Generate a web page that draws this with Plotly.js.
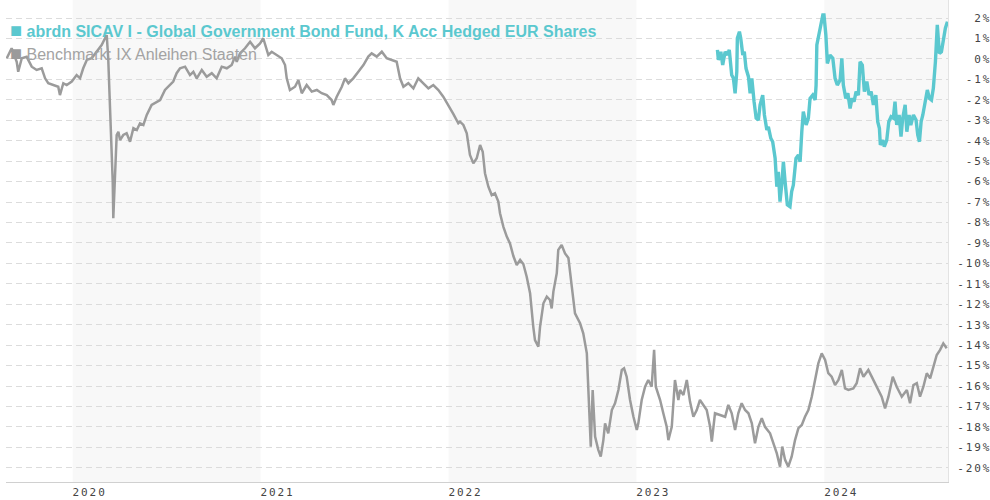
<!DOCTYPE html>
<html><head><meta charset="utf-8">
<script src="https://cdn.plot.ly/plotly-3.0.1.min.js"></script>
<style>
html,body{margin:0;padding:0;background:#fff;}
#chart{width:990px;height:500px;}
.xtick text, .ytick text { letter-spacing: 1.9px; }
</style></head><body><div id="chart"></div>
<script>
// x values are decimal years
const fundName = 'abrdn SICAV I - Global Government Bond Fund, K Acc Hedged EUR Shares';
const benchName = 'Benchmark: IX Anleihen Staaten';

const benchX = [2019.649,2019.675,2019.702,2019.710,2019.729,2019.755,2019.782,2019.808,2019.835,2019.853,
2019.870,2019.897,2019.923,2019.932,2019.950,2019.968,2019.995,2020.021,2020.039,2020.056,
2020.075,2020.101,2020.128,2020.154,2020.172,2020.181,2020.189,2020.199,2020.208,2020.213,
2020.216,2020.225,2020.234,2020.243,2020.252,2020.269,2020.287,2020.305,2020.323,2020.341,
2020.358,2020.376,2020.394,2020.420,2020.447,2020.465,2020.491,2020.518,2020.535,2020.553,
2020.571,2020.598,2020.624,2020.642,2020.660,2020.687,2020.713,2020.740,2020.766,2020.793,
2020.820,2020.846,2020.864,2020.873,2020.890,2020.917,2020.944,2020.970,2020.997,2021.014,
2021.041,2021.059,2021.086,2021.112,2021.130,2021.139,2021.156,2021.183,2021.201,2021.219,
2021.245,2021.272,2021.299,2021.325,2021.352,2021.378,2021.387,2021.405,2021.432,2021.449,
2021.467,2021.493,2021.520,2021.547,2021.573,2021.591,2021.618,2021.645,2021.671,2021.698,
2021.724,2021.742,2021.760,2021.786,2021.813,2021.839,2021.866,2021.893,2021.919,2021.946,
2021.972,2021.999,2022.026,2022.052,2022.061,2022.079,2022.097,2022.114,2022.132,2022.150,
2022.168,2022.182,2022.194,2022.212,2022.230,2022.247,2022.265,2022.274,2022.292,2022.310,
2022.327,2022.345,2022.363,2022.381,2022.398,2022.416,2022.434,2022.451,2022.460,2022.478,
2022.487,2022.505,2022.523,2022.540,2022.549,2022.558,2022.576,2022.584,2022.602,2022.620,
2022.638,2022.656,2022.673,2022.700,2022.717,2022.736,2022.744,2022.753,2022.757,2022.767,
2022.780,2022.797,2022.810,2022.824,2022.833,2022.850,2022.869,2022.886,2022.904,2022.922,
2022.934,2022.948,2022.966,2022.984,2023.002,2023.010,2023.028,2023.046,2023.063,2023.081,
2023.094,2023.103,2023.126,2023.143,2023.161,2023.170,2023.188,2023.205,2023.223,2023.232,
2023.250,2023.268,2023.285,2023.303,2023.321,2023.338,2023.356,2023.374,2023.392,2023.401,
2023.418,2023.445,2023.472,2023.489,2023.507,2023.525,2023.542,2023.560,2023.578,2023.596,
2023.614,2023.631,2023.649,2023.667,2023.684,2023.711,2023.729,2023.747,2023.764,2023.776,
2023.791,2023.808,2023.826,2023.844,2023.862,2023.880,2023.897,2023.915,2023.933,2023.950,
2023.968,2023.986,2024.004,2024.021,2024.039,2024.057,2024.075,2024.093,2024.110,2024.128,
2024.154,2024.172,2024.190,2024.208,2024.234,2024.252,2024.270,2024.287,2024.305,2024.323,
2024.341,2024.364,2024.385,2024.412,2024.439,2024.456,2024.474,2024.492,2024.509,2024.527,
2024.545,2024.563,2024.580,2024.598,2024.616,2024.633,2024.651];

const benchY = [0.03,0.52,-0.14,-0.63,0.03,0.1,-0.38,-0.54,-0.46,-0.95,
-1.19,-1.28,-1.36,-1.77,-1.19,-1.28,-1.11,-0.79,-0.95,-0.46,
-0.05,0.03,0.35,0.68,1.01,1.17,0.03,-2.42,-4.85,-6.0,
-7.79,-5.19,-3.72,-3.56,-3.97,-3.72,-3.64,-4.05,-3.39,-3.48,
-3.15,-3.23,-2.74,-2.25,-2.09,-2.01,-1.52,-1.28,-1.11,-0.70,
-0.46,-0.38,-0.79,-0.63,-0.95,-0.54,-0.87,-0.70,-0.95,-0.38,
-0.46,-0.30,0.11,-0.14,0.27,0.52,0.84,0.52,0.76,1.01,
0.19,0.35,0.19,0.03,-0.30,-0.95,-1.52,-1.36,-1.03,-1.68,
-1.28,-1.60,-1.52,-1.68,-1.77,-2.01,-2.25,-1.85,-1.36,-0.95,
-1.19,-0.95,-0.63,-0.30,0.11,0.27,0.11,0.35,0.03,-0.05,
-0.14,-0.95,-1.36,-1.19,-1.44,-0.95,-1.19,-1.44,-1.28,-1.52,
-1.85,-2.25,-2.70,-3.15,-3.07,-3.23,-3.64,-4.70,-5.11,-4.86,
-4.21,-4.54,-5.59,-6.25,-6.66,-6.57,-6.98,-7.55,-8.21,-8.69,
-9.02,-9.64,-10.08,-9.83,-10.03,-10.65,-11.46,-13.10,-13.75,-14.07,
-13.10,-11.95,-11.63,-11.79,-12.20,-11.38,-10.48,-9.34,-9.10,-9.51,
-9.74,-11.14,-12.44,-12.93,-13.42,-14.40,-16.03,-17.50,-18.96,-16.19,
-18.47,-19.12,-19.45,-18.64,-17.82,-18.31,-17.17,-16.84,-16.19,-15.21,
-15.13,-15.54,-16.68,-17.50,-18.15,-17.82,-16.68,-16.03,-15.70,-16.03,
-14.23,-16.03,-16.68,-17.33,-17.99,-18.64,-17.99,-15.70,-16.68,-16.19,
-16.44,-15.70,-16.76,-17.50,-17.17,-16.68,-16.92,-17.17,-17.99,-18.72,
-17.33,-17.41,-17.50,-16.92,-17.33,-18.15,-17.33,-16.84,-17.17,-17.33,
-17.82,-18.80,-17.99,-17.57,-17.99,-18.31,-18.80,-19.29,-19.94,-18.96,
-19.61,-19.94,-19.45,-18.64,-18.06,-17.90,-17.50,-17.17,-16.52,-15.70,
-14.89,-14.40,-14.72,-15.37,-15.54,-15.95,-15.70,-15.21,-16.11,-16.19,
-16.11,-15.86,-15.13,-15.54,-15.21,-15.54,-15.86,-16.19,-16.52,-17.09,
-16.52,-15.54,-16.03,-16.52,-16.19,-16.84,-15.95,-15.86,-16.52,-16.03,
-15.37,-15.62,-15.05,-14.48,-14.23,-13.91,-14.15];

const fundX = [2023.431,2023.436,2023.449,2023.459,2023.472,2023.484,2023.494,2023.507,2023.516,2023.525,
2023.534,2023.537,2023.548,2023.555,2023.566,2023.574,2023.583,2023.596,2023.605,2023.614,
2023.626,2023.637,2023.649,2023.658,2023.672,2023.681,2023.694,2023.702,2023.715,2023.725,
2023.738,2023.747,2023.755,2023.764,2023.773,2023.782,2023.791,2023.803,2023.817,2023.826,
2023.835,2023.849,2023.862,2023.871,2023.880,2023.888,2023.903,2023.915,2023.924,2023.938,
2023.951,2023.956,2023.960,2023.968,2023.977,2023.992,2023.998,2024.008,2024.016,2024.030,
2024.045,2024.057,2024.069,2024.084,2024.093,2024.101,2024.114,2024.125,2024.137,2024.147,
2024.158,2024.169,2024.181,2024.190,2024.202,2024.213,2024.226,2024.238,2024.249,2024.261,
2024.274,2024.284,2024.293,2024.298,2024.311,2024.319,2024.332,2024.343,2024.355,2024.367,
2024.376,2024.385,2024.398,2024.408,2024.417,2024.430,2024.439,2024.451,2024.460,2024.474,
2024.488,2024.497,2024.506,2024.515,2024.524,2024.536,2024.548,2024.559,2024.570,2024.580,
2024.591,2024.601,2024.612,2024.623,2024.633,2024.644,2024.655];

const fundY = [0.44,-0.05,0.35,-0.30,0.35,0.19,0.44,-0.79,-0.95,-1.68,
-0.63,1.01,1.33,1.01,0.19,0.35,-0.46,-0.87,-1.68,-0.95,
-2.09,-2.90,-2.99,-2.25,-1.77,-2.74,-3.48,-3.32,-3.88,-4.05,
-4.86,-6.25,-5.52,-6.98,-6.17,-5.03,-6.0,-7.14,-7.23,-6.49,
-6.17,-4.86,-4.70,-5.03,-3.56,-2.58,-3.23,-2.90,-1.93,-1.77,
-2.01,-1.28,0.68,1.01,1.50,2.15,2.15,1.17,-0.22,0.19,
0.03,-0.95,-1.28,-1.03,0.03,-1.28,-1.93,-1.68,-2.42,-1.93,
-2.09,-1.60,-1.77,-0.14,-0.30,-1.60,-1.11,-1.77,-1.60,-2.25,
-1.77,-3.07,-3.39,-4.21,-3.97,-4.29,-3.97,-3.07,-2.83,-2.90,
-2.09,-3.23,-2.74,-3.80,-2.90,-2.25,-3.56,-2.74,-3.23,-2.74,
-2.99,-3.72,-4.05,-3.07,-2.74,-2.09,-1.52,-1.93,-2.01,-1.44,
-0.14,1.66,0.27,0.35,1.01,1.50,1.82];

const yTicks = [2,1,0,-1,-2,-3,-4,-5,-6,-7,-8,-9,-10,-11,-12,-13,-14,-15,-16,-17,-18,-19,-20];
const yearLabels = ['2020','2021','2022','2023','2024'];
const shadedYears = [2020, 2022, 2024];

const TEAL = '#5bc8cf';
const GREY = '#9b9b9b';
const monoFont = {family: 'DejaVu Sans Mono, monospace', size: 11, color: '#444'};

function padLabel(v){
  let s = v + '%';
  while (s.length < 4) s = '\u00A0' + s;
  return s;
}

const traces = [
  {x: benchX, y: benchY, type: 'scatter', mode: 'lines', name: benchName,
   line: {color: GREY, width: 2.5}, hoverinfo: 'skip'},
  {x: fundX, y: fundY, type: 'scatter', mode: 'lines', name: fundName,
   line: {color: TEAL, width: 3.4}, hoverinfo: 'skip'}
];

const shapes = shadedYears.map(yr => ({
  type: 'rect', xref: 'x', yref: 'paper', x0: yr, x1: yr + 1, y0: 0, y1: 1,
  fillcolor: '#f8f8f8', line: {width: 0}, layer: 'below'
}));

const sq = (c) => '<span style="color:' + c + ';font-size:20px">■</span>';

const layout = {
  width: 990, height: 500,
  margin: {l: 6, r: 42, t: 0, b: 18},
  paper_bgcolor: '#ffffff', plot_bgcolor: '#ffffff',
  showlegend: false,
  xaxis: {
    range: [2019.645, 2024.658],
    tickvals: yearLabels.map(s => Number(s) + 0.09),
    ticktext: yearLabels,
    showgrid: false, zeroline: false,
    showline: true, linecolor: '#d0d0d0', linewidth: 1,
    ticks: '', tickfont: monoFont, fixedrange: true
  },
  yaxis: {
    side: 'right',
    range: [-20.69, 2.88],
    tickvals: yTicks,
    ticktext: yTicks.map(padLabel),
    showgrid: true, gridcolor: '#dcdcdc', gridwidth: 1, griddash: '6px,4px',
    zeroline: false,
    showline: true, linecolor: '#e3e3e3', linewidth: 1,
    ticks: '', ticklabelstandoff: 6,
    tickfont: monoFont, fixedrange: true
  },
  shapes: shapes,
  annotations: [
    {xref: 'paper', yref: 'paper', x: 0, y: 1 - 29.5/482, xanchor: 'left', yanchor: 'middle',
     xshift: 2, showarrow: false,
     text: sq(TEAL) + ' <b>' + fundName + '</b>',
     font: {family: 'Liberation Sans, Arial, sans-serif', size: 16, color: TEAL}},
    {xref: 'paper', yref: 'paper', x: 0, y: 1 - 53/482, xanchor: 'left', yanchor: 'middle',
     xshift: 2, showarrow: false,
     text: sq(GREY) + ' ' + benchName,
     font: {family: 'Liberation Sans, Arial, sans-serif', size: 16, color: '#a3a3a3'}}
  ]
};

Plotly.newPlot('chart', traces, layout, {displayModeBar: false, staticPlot: true});
</script></body></html>
